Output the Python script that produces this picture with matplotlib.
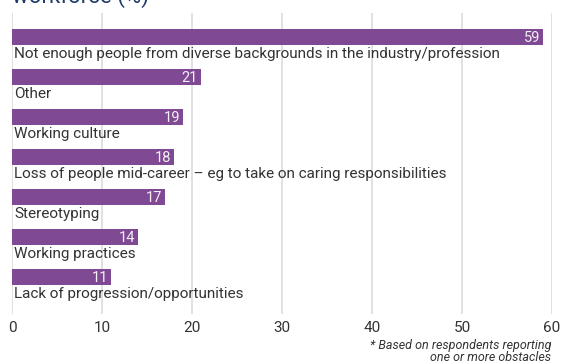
import matplotlib
matplotlib.use("Agg")
import matplotlib.pyplot as plt

obstacles = [
    "Not enough people from diverse backgrounds in the industry/profession",
    "Other",
    "Working culture",
    "Loss of people mid-career \u2013 eg to take on caring responsibilities",
    "Stereotyping",
    "Working practices",
    "Lack of progression/opportunities",
]
percent = [59, 21, 19, 18, 17, 14, 11]
x_ticks = [0, 10, 20, 30, 40, 50, 60]

BAR_COLOR = "#7f4a93"
TEXT_COLOR = "#333333"
GRID_COLOR = "#dcdcdc"

plt.rcParams["font.family"] = ["Roboto", "DejaVu Sans"]

fig = plt.figure(figsize=(5.62, 3.62), dpi=100)
ax = fig.add_axes([12 / 562, 1 - 314 / 362, 540 / 562, 301 / 362])

ypos = list(range(len(percent)))
ax.barh(ypos, percent, height=0.4, color=BAR_COLOR, zorder=2)

for y, name, val in zip(ypos, obstacles, percent):
    ax.text(val - 0.35, y + 0.02, str(val), color="#f4eef6", fontsize=10.5,
            ha="right", va="center", zorder=3)
    ax.text(0.25, y + 0.42, name, color=TEXT_COLOR, fontsize=11,
            ha="left", va="center", zorder=3)

ax.set_xlim(0, 60)
ax.set_ylim(6.925, -0.6)
ax.set_xticks(x_ticks)
ax.set_xticklabels([str(t) for t in x_ticks], color=TEXT_COLOR, fontsize=11)
ax.set_yticks([])
ax.tick_params(axis="x", length=0, pad=5)
ax.grid(axis="x", color=GRID_COLOR, linewidth=1.2, zorder=0)
for side in ax.spines.values():
    side.set_visible(False)

# title sits partly above the top edge
fig.text(12 / 562, 1 + 3 / 362, "workforce (%)", color="#1f3a68",
         fontsize=16, ha="left", va="center")

fig.text(551 / 562, 1 - 345 / 362, "* Based on respondents reporting",
         color=TEXT_COLOR, fontsize=9, style="italic", ha="right", va="center")
fig.text(551 / 562, 1 - 357.5 / 362, "one or more obstacles",
         color=TEXT_COLOR, fontsize=9, style="italic", ha="right", va="center")

fig.savefig("out.png", dpi=100)
